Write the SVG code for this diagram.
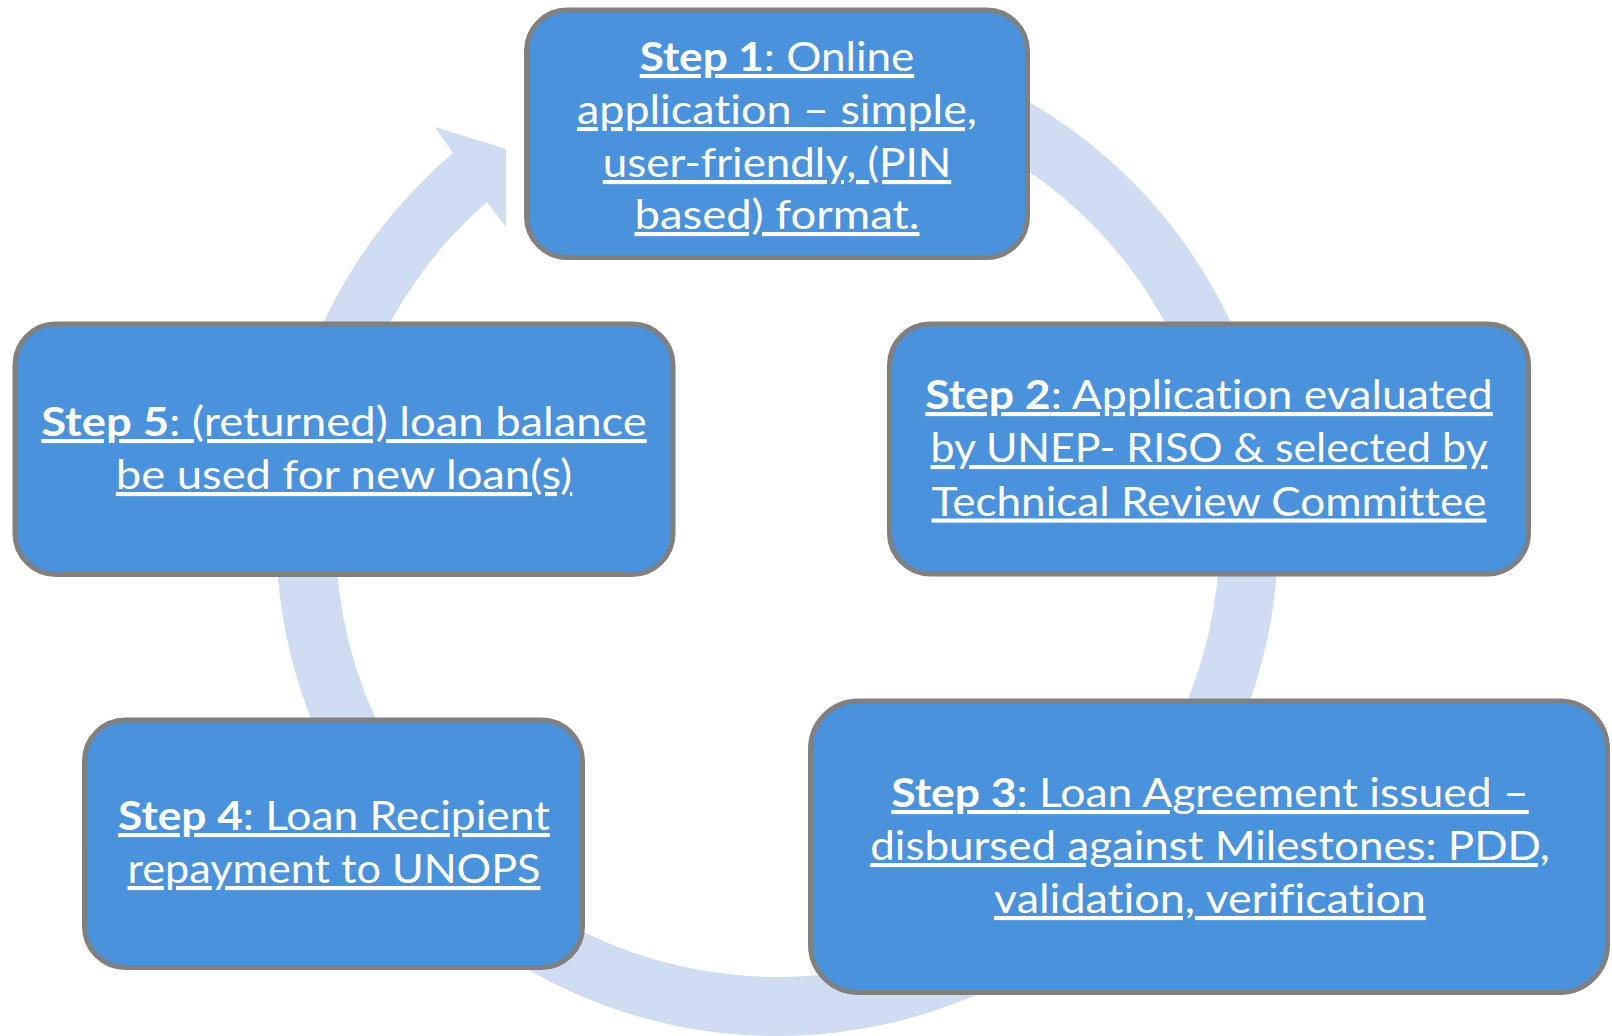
<svg xmlns="http://www.w3.org/2000/svg" width="1612" height="1036" viewBox="0 0 1612 1036">
<style>
.box{fill:#4a92dc;stroke:#808080;stroke-width:5}
.t{font-family:Lato,"Open Sans","Liberation Sans",sans-serif;font-size:41px;fill:#ffffff;text-anchor:middle;text-decoration:underline;font-variant-ligatures:none;font-feature-settings:"liga" 0,"clig" 0}
.b{font-weight:bold}
.ring{fill:#cfdcf1;stroke:none}
</style>
<rect width="1612" height="1036" fill="#ffffff"/>
<g id="connectors">
<path class="ring" d="M777,34 A501,501 0 1 1 453,153 L435,127 L506,149 L506,227 L487,202 A442,442 0 1 0 777,93 Z"/>
</g>
<g id="step1">
<rect class="box" x="526.5" y="10" width="501" height="247.5" rx="41"/>
<text class="t" x="777" y="71" textLength="274.5" lengthAdjust="spacingAndGlyphs"><tspan class="b">Step 1</tspan>: Online</text>
<text class="t" x="777" y="124" textLength="400" lengthAdjust="spacingAndGlyphs">application – simple,</text>
<text class="t" x="777" y="177" textLength="348.5" lengthAdjust="spacingAndGlyphs">user-friendly, (PIN</text>
<text class="t" x="777" y="229" textLength="285" lengthAdjust="spacingAndGlyphs">based) format.</text>
</g>
<g id="step2">
<rect class="box" x="889.5" y="324" width="639" height="250" rx="41"/>
<text class="t" x="1209" y="409" textLength="567.5" lengthAdjust="spacingAndGlyphs"><tspan class="b">Step 2</tspan>: Application evaluated</text>
<text class="t" x="1209" y="462" textLength="557" lengthAdjust="spacingAndGlyphs">by UNEP- RISO &amp; selected by</text>
<text class="t" x="1209" y="515.5" textLength="555" lengthAdjust="spacingAndGlyphs">Technical Review Committee</text>
</g>
<g id="step3">
<rect class="box" x="810.5" y="701" width="797" height="291.5" rx="48"/>
<text class="t" x="1210" y="807" textLength="637.4" lengthAdjust="spacingAndGlyphs"><tspan class="b">Step 3</tspan>: Loan Agreement issued –</text>
<text class="t" x="1210" y="860" textLength="679.5" lengthAdjust="spacingAndGlyphs">disbursed against Milestones: PDD,</text>
<text class="t" x="1210" y="913" textLength="431.8" lengthAdjust="spacingAndGlyphs">validation, verification</text>
</g>
<g id="step4">
<rect class="box" x="84.5" y="720" width="498" height="247.5" rx="41"/>
<text class="t" x="334" y="830" textLength="431.8" lengthAdjust="spacingAndGlyphs"><tspan class="b">Step 4</tspan>: Loan Recipient</text>
<text class="t" x="334" y="883" textLength="413" lengthAdjust="spacingAndGlyphs">repayment to UNOPS</text>
</g>
<g id="step5">
<rect class="box" x="15" y="324" width="658" height="250.5" rx="41"/>
<text class="t" x="344" y="436" textLength="605.5" lengthAdjust="spacingAndGlyphs"><tspan class="b">Step 5</tspan>: (returned) loan balance</text>
<text class="t" x="344" y="489" textLength="456.4" lengthAdjust="spacingAndGlyphs">be used for new loan(s)</text>
</g>
</svg>
